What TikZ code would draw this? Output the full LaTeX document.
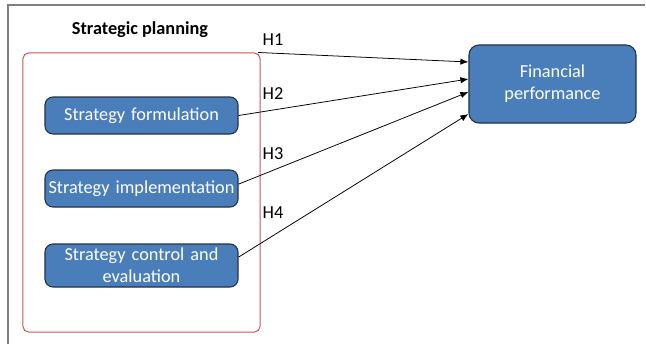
\documentclass[tikz,border=0pt]{standalone}
\usepackage{fontspec}
\setmainfont{Carlito}
\usetikzlibrary{shapes,arrows,arrows.meta}
\usetikzlibrary{positioning}
\definecolor{boxblue}{RGB}{74,126,187}
\definecolor{boxedge}{RGB}{40,50,65}
\definecolor{groupred}{RGB}{200,85,85}
\tikzstyle{frame} = [
        rectangle, rounded corners=0.2cm, draw=boxedge, fill=boxblue,
        line width=0.8pt, text=white, text width=4.7cm, align=center,
        minimum width=4.825cm, minimum height=0.925cm,
        font=\fontsize{13}{15.5}\selectfont, inner sep=1pt
    ]
\tikzstyle{group} = [
        rectangle, rounded corners=0.14cm, draw=groupred, line width=0.7pt,
        minimum width=5.925cm, minimum height=6.975cm
    ]
\tikzstyle{hlabel} = [font=\fontsize{13}{15.5}\selectfont, inner sep=0pt]
\tikzstyle{line} = [draw, line width=0.55pt, -{Latex[length=2mm,width=1.6mm]}]

\begin{document}
\begin{tikzpicture}[x=0.025cm, y=-0.025cm]
    \useasboundingbox (0,0) rectangle (646,344);
    % outer frame
    \draw [gray, line width=0.8pt] (8,344) -- (8,5) -- (645,5);

    \node [group] (plan) at (141.5,192.5) {};
    \node [font=\bfseries\fontsize{13}{15.5}\selectfont] (title) at (140,30) {Strategic planning};
    \node [frame] (form) at (141.5,115.5) {Strategy formulation};
    \node [frame] (impl) at (141.5,188.5) {Strategy implementation};
    \node [frame, minimum height=1.075cm] (ctrl) at (141.5,265.5) {Strategy control and\\evaluation};
    \node [frame, rounded corners=0.25cm, text width=3.2cm,
           minimum width=4.175cm, minimum height=1.95cm] (fin) at (552.5,84) {Financial\\performance};

    \node [hlabel] (h1) at (273,40) {H1};
    \node [hlabel] (h2) at (273,93.5) {H2};
    \node [hlabel] (h3) at (273,154) {H3};
    \node [hlabel] (h4) at (273,212.5) {H4};

    \path [line] ([xshift=-0.06cm]plan.north east) -- ([yshift=0.55cm]fin.west);
    \path [line] (form.east) -- ([yshift=0.125cm]fin.west);
    \path [line] ([yshift=0.11cm]impl.east) -- ([yshift=-0.2cm]fin.west);
    \path [line] ([yshift=0.21cm]ctrl.east) -- ([yshift=-0.75cm]fin.west);
\end{tikzpicture}
\end{document}
